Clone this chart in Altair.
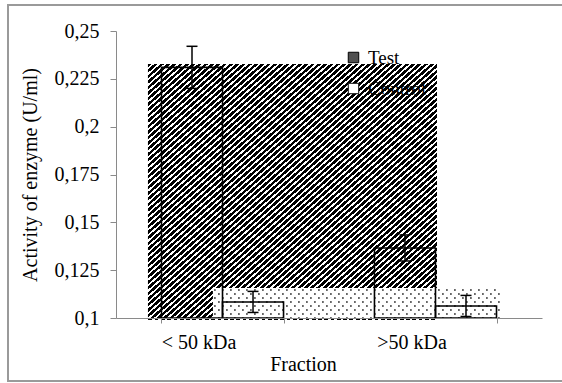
import altair as alt
import pandas as pd

# ---- data ----
fractions = ['< 50 kDa', '>50 kDa']
series = ['Test', 'Control']
test_vals = [0.231, 0.1366]
test_err = [0.011, 0.0068]
control_vals = [0.1084, 0.1063]
control_err = [0.0055, 0.0055]
y_ticks = [0.1, 0.125, 0.15, 0.175, 0.2, 0.225, 0.25]

# odd pattern-fill regions seen in the picture (x in category units 0..2, y in U/ml)
hatch_x = [0.150, 1.507]
hatch_y = [0.0990, 0.2328]
dots_x = [0.455, 1.803]
dots_y = [0.0995, 0.1157]

W, H = 426, 287
FONT = 'Liberation Serif, serif'
FS = 20
GRAY = '#8a8a8a'

rows = []
for i, f in enumerate(fractions):
    rows.append(dict(fraction=f, series='Test', value=test_vals[i],
                     lo=test_vals[i] - test_err[i], hi=test_vals[i] + test_err[i]))
    rows.append(dict(fraction=f, series='Control', value=control_vals[i],
                     lo=control_vals[i] - control_err[i], hi=control_vals[i] + control_err[i]))
df = pd.DataFrame(rows)

x_scale = alt.Scale(domain=fractions, paddingInner=0.427, paddingOuter=0.2136)
xo_scale = alt.Scale(domain=series, paddingInner=0, paddingOuter=0)
y_scale = alt.Scale(domain=[0.1, 0.25], nice=False, zero=False, clamp=False)
q_scale = alt.Scale(domain=[0, 2], nice=False, zero=False)

y_axis = alt.Axis(values=y_ticks,
                  labelExpr="replace(format(datum.value, '.3~f'), '.', ',')",
                  grid=False, domainColor=GRAY, tickColor=GRAY, tickSize=6,
                  labelFont=FONT, labelFontSize=FS, labelColor='black', labelPadding=11,
                  title='Activity of enzyme (U/ml)', titleFont=FONT, titleFontSize=FS,
                  titleFontWeight='normal', titleColor='black', titlePadding=14,
                  zindex=1)
x_axis = alt.Axis(labelAngle=0, tickBand='extent', grid=False,
                  domainColor=GRAY, tickColor=GRAY, tickSize=5,
                  labelFont=FONT, labelFontSize=FS, labelColor='black',
                  labelPadding=9, labelOffset=-24,
                  title='Fraction', titleFont=FONT, titleFontSize=FS,
                  titleFontWeight='normal', titleColor='black', titlePadding=2,
                  titleX=187, zindex=1)

# outer frame
border = alt.Chart(pd.DataFrame({'k': [0]})).mark_rect(
    fillOpacity=0, stroke='#9a9a9a', strokeWidth=2
).encode(x=alt.value(-108), x2=alt.value(470), y=alt.value(-26), y2=alt.value(350))

# filled bars (give the legend, hidden under the pattern regions)
bars_fill = alt.Chart(df).mark_bar(stroke='black', strokeWidth=1.5).encode(
    x=alt.X('fraction:N', scale=x_scale, axis=None, sort=fractions),
    xOffset=alt.XOffset('series:N', scale=xo_scale, sort=series),
    y=alt.Y('value:Q', scale=y_scale, axis=y_axis),
    y2=alt.datum(0.1),
    fill=alt.Fill('series:N', scale=alt.Scale(domain=series, range=['#505050', 'white']),
                  legend=alt.Legend(orient='none', legendX=228, legendY=17, title=None,
                                    symbolType='square', symbolSize=110,
                                    symbolStrokeColor='black', symbolStrokeWidth=1,
                                    labelFont=FONT, labelFontSize=19, labelColor='black',
                                    rowPadding=11, labelOffset=5)),
)

# hatch pattern via a striped gradient
N = 92
stops = []
for i in range(N):
    a, b, c = i / N, (i + 0.6) / N, (i + 1) / N
    stops += [alt.GradientStop(color='black', offset=round(a, 6)),
              alt.GradientStop(color='black', offset=round(b, 6)),
              alt.GradientStop(color='white', offset=round(b, 6)),
              alt.GradientStop(color='white', offset=round(min(c, 1.0), 6))]
hatch_fill = alt.LinearGradient(gradient='linear', stops=stops, x1=0, y1=0, x2=1, y2=1)

hatch_df = pd.DataFrame({'x': [hatch_x[0]], 'x2': [hatch_x[1]], 'y': [hatch_y[0]], 'y2': [hatch_y[1]]})
hatch = alt.Chart(hatch_df).mark_rect(fill=hatch_fill).encode(
    x=alt.X('x:Q', scale=q_scale, axis=None), x2='x2',
    y=alt.Y('y:Q', scale=y_scale, axis=y_axis), y2='y2')

dots_df = pd.DataFrame({'x': [dots_x[0]], 'x2': [dots_x[1]], 'y': [dots_y[0]], 'y2': [dots_y[1]]})
dots_bg = alt.Chart(dots_df).mark_rect(fill='white').encode(
    x=alt.X('x:Q', scale=q_scale, axis=None), x2='x2',
    y=alt.Y('y:Q', scale=y_scale, axis=y_axis), y2='y2')

# dotted texture grid
sx = 8 / 213.0
sy = 4 / 1913.3
gx, gy = [], []
r = 0
yv = dots_y[1] - sy / 2
while yv > dots_y[0]:
    xv = dots_x[0] + sx / 4 + (r % 2) * sx / 2
    while xv < dots_x[1]:
        gx.append(xv)
        gy.append(yv)
        xv += sx
    yv -= sy
    r += 1
grid_df = pd.DataFrame({'x': gx, 'y': gy})
dots = alt.Chart(grid_df).mark_square(size=2, color='black', opacity=1).encode(
    x=alt.X('x:Q', scale=q_scale, axis=None),
    y=alt.Y('y:Q', scale=y_scale, axis=y_axis))

artifacts = alt.layer(hatch, dots_bg, dots)

# front: outlines + error bars, with axes
outlines = alt.Chart(df).mark_bar(fillOpacity=0, stroke='black', strokeWidth=1.6).encode(
    x=alt.X('fraction:N', scale=x_scale, axis=x_axis, sort=fractions),
    xOffset=alt.XOffset('series:N', scale=xo_scale, sort=series),
    y=alt.Y('value:Q', scale=y_scale, axis=y_axis),
    y2=alt.datum(0.1),
)
err_rule = alt.Chart(df).mark_rule(color='black', strokeWidth=1.5).encode(
    x=alt.X('fraction:N', scale=x_scale, axis=x_axis, sort=fractions),
    xOffset=alt.XOffset('series:N', scale=xo_scale, sort=series),
    y=alt.Y('lo:Q', scale=y_scale, axis=y_axis), y2='hi:Q')
err_caps = alt.Chart(df).transform_fold(['lo', 'hi'], as_=['k', 'cap']).mark_tick(
    color='black', thickness=1.5, size=11, opacity=1).encode(
    x=alt.X('fraction:N', scale=x_scale, axis=x_axis, sort=fractions),
    xOffset=alt.XOffset('series:N', scale=xo_scale, sort=series),
    y=alt.Y('cap:Q', scale=y_scale, axis=y_axis))

fronts = alt.layer(outlines, err_rule, err_caps)

chart = alt.layer(border, bars_fill, artifacts, fronts).resolve_scale(
    x='independent', xOffset='independent'
).properties(
    width=W, height=H,
    padding={'left': 116, 'top': 31, 'right': 20, 'bottom': 65},
    autosize=alt.AutoSizeParams(type='none'),
    background='white',
).configure(font=FONT).configure_view(strokeWidth=0).configure_axis(
    labelFont=FONT, titleFont=FONT, labelFontSize=FS, titleFontSize=FS,
    labelColor='black', titleColor='black', titleFontWeight='normal'
).configure_legend(labelFont=FONT, labelColor='black')

chart.save('out.html', embed_options={'renderer': 'svg', 'actions': False})
